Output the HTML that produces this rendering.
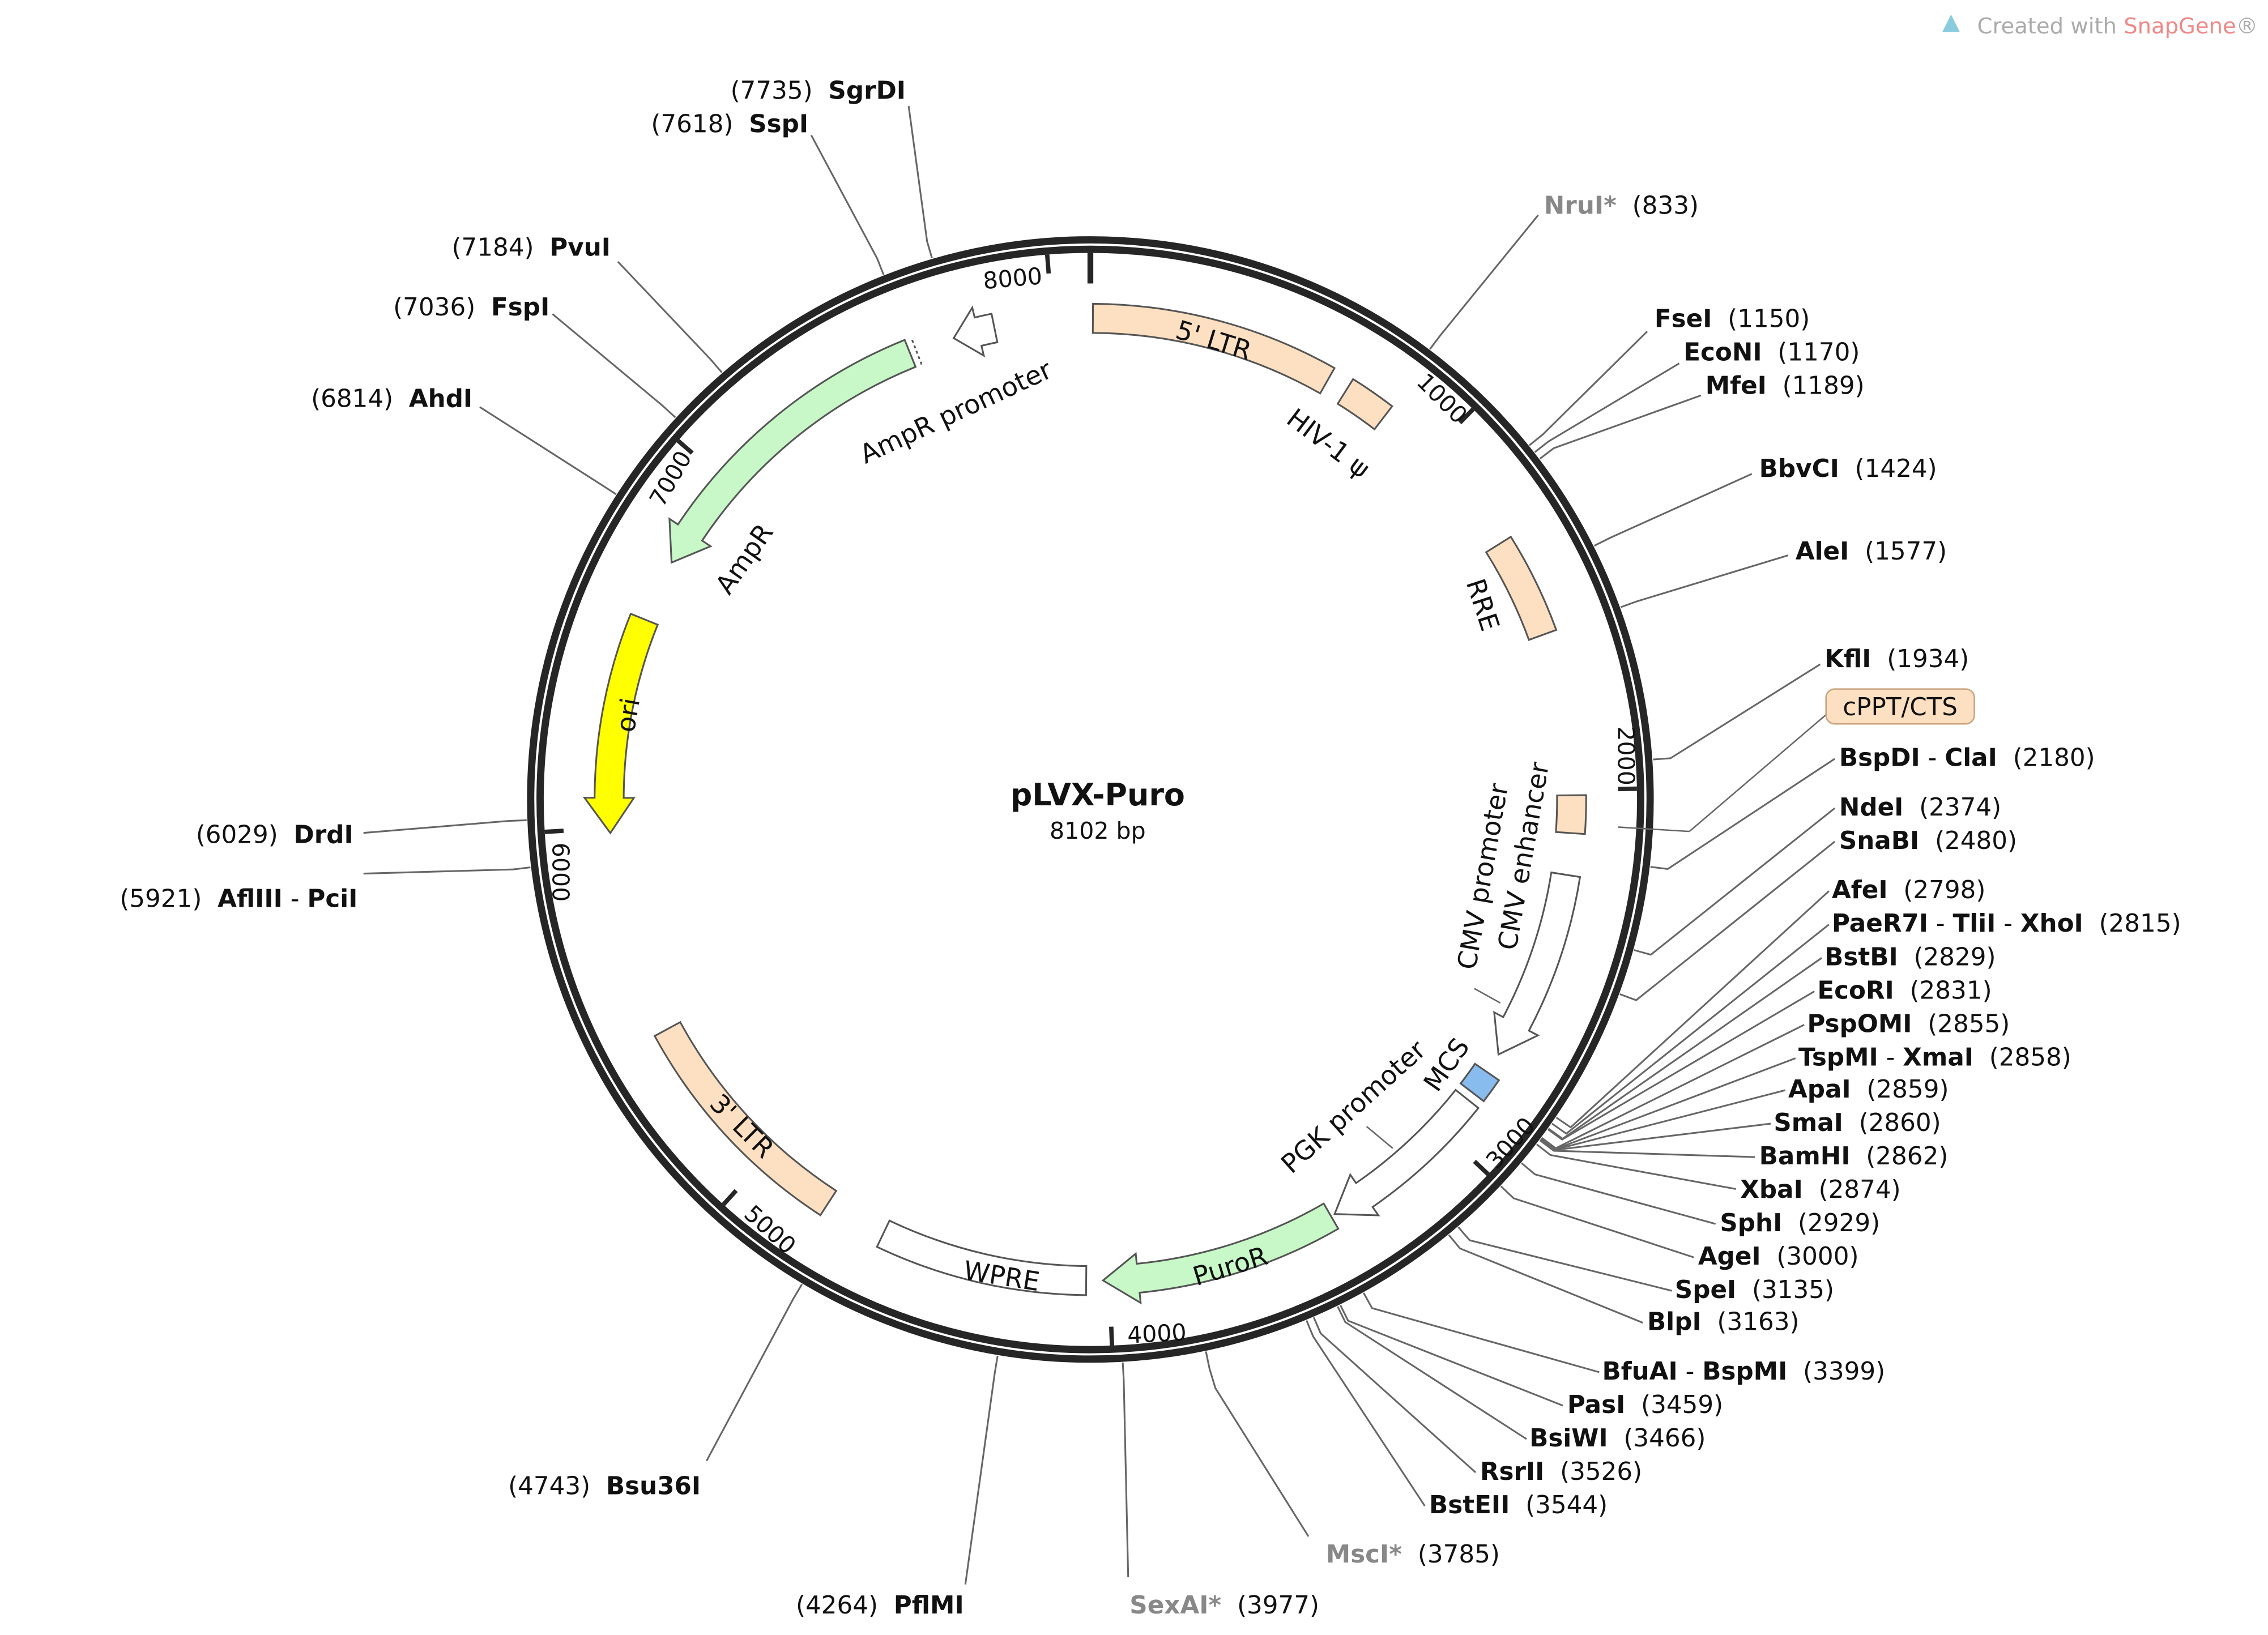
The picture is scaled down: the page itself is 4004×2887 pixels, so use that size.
<!DOCTYPE html>
<html><head><meta charset="utf-8"><style>
html,body{margin:0;padding:0;background:#fff}
svg{display:block}
text{font-family:"DejaVu Sans","Liberation Sans",sans-serif;font-size:17px;fill:#111;white-space:pre}
.b{font-weight:bold}
.g{fill:#888;font-weight:bold}
.f{font-size:18px}
.t{font-size:16px}
</style></head><body>
<svg id="s" width="4004" height="2887" viewBox="0 0 1560 1124.8" xmlns="http://www.w3.org/2000/svg" xml:space="preserve">
<g id="lines" stroke="#666" stroke-width="1.2" fill="none"></g>
<circle cx="750" cy="550" r="385" fill="none" stroke="#262626" stroke-width="5"/>
<circle cx="750" cy="550" r="378.5" fill="none" stroke="#262626" stroke-width="5"/>
<g id="ticks" stroke="#262626" stroke-width="3"></g>
<g id="feats" stroke="#555" stroke-width="1.2"></g>
<line x1="1014" y1="680" x2="1032" y2="690" stroke="#666"/>
<line x1="940" y1="775" x2="958" y2="790" stroke="#666"/>
<line x1="1113" y1="569" x2="1162" y2="572" stroke="#666"/>
<line x1="1162" y1="572" x2="1258" y2="490" stroke="#666"/>

<text x="755" y="554" text-anchor="middle" class="b" style="font-size:21px">pLVX-Puro</text>
<text x="755" y="577" text-anchor="middle" style="font-size:16px">8102 bp</text>
<text x="1360" y="23" style="font-size:15px;fill:#aaa">Created with <tspan style="fill:#e88">SnapGene</tspan>®</text>
<path d="M1336 22 l6 -12 l6 12 z" fill="#8cd"/>

<text class="t" text-anchor="middle" transform="translate(697,197) rotate(-5)">8000</text>
<text class="t" text-anchor="middle" transform="translate(988,278) rotate(45)">1000</text>
<text class="t" text-anchor="middle" transform="translate(1113,520) rotate(90)">2000</text>
<text class="t" text-anchor="middle" transform="translate(1043,790) rotate(-48)">3000</text>
<text class="t" text-anchor="middle" transform="translate(796,923) rotate(-3)">4000</text>
<text class="t" text-anchor="middle" transform="translate(526,850) rotate(42)">5000</text>
<text class="t" text-anchor="middle" transform="translate(380,600) rotate(90)">6000</text>
<text class="t" text-anchor="middle" transform="translate(466,332) rotate(-60)">7000</text>

<text class="f" text-anchor="middle" transform="translate(833,240) rotate(17)">5' LTR</text>
<text class="f" text-anchor="middle" transform="translate(910,310) rotate(37)">HIV-1 ψ</text>
<text class="f" text-anchor="middle" transform="translate(1014,418) rotate(72)">RRE</text>
<text class="f" text-anchor="middle" transform="translate(1054,590) rotate(-80)">CMV enhancer</text>
<text class="f" text-anchor="middle" transform="translate(1026,604) rotate(-80)">CMV promoter</text>
<text class="f" text-anchor="middle" transform="translate(1000,736) rotate(-55)">MCS</text>
<text class="f" text-anchor="middle" transform="translate(935,766) rotate(-42)">PGK promoter</text>
<text class="f" text-anchor="middle" transform="translate(848,877) rotate(-17)">PuroR</text>
<text class="f" text-anchor="middle" transform="translate(688,884) rotate(9)">WPRE</text>
<text class="f" text-anchor="middle" transform="translate(506,779) rotate(45)">3' LTR</text>
<text class="f" text-anchor="middle" transform="translate(438,493) rotate(-80)">ori</text>
<text class="f" text-anchor="middle" transform="translate(517,388) rotate(-55)">AmpR</text>
<text class="f" text-anchor="middle" transform="translate(660,289) rotate(-25)">AmpR promoter</text>

<rect x="1256" y="474" width="102" height="24" rx="6" fill="#fde0c2" stroke="#c9a37f"/>
<text x="1307" y="492" text-anchor="middle">cPPT/CTS</text>

<text x="623" y="68" text-anchor="end">(7735)  <tspan class="b">SgrDI</tspan></text>
<text x="556" y="91" text-anchor="end">(7618)  <tspan class="b">SspI</tspan></text>
<text x="420" y="176" text-anchor="end">(7184)  <tspan class="b">PvuI</tspan></text>
<text x="378" y="217" text-anchor="end">(7036)  <tspan class="b">FspI</tspan></text>
<text x="325" y="280" text-anchor="end">(6814)  <tspan class="b">AhdI</tspan></text>
<text x="243" y="580" text-anchor="end">(6029)  <tspan class="b">DrdI</tspan></text>
<text x="246" y="624" text-anchor="end">(5921)  <tspan class="b">AflIII</tspan> - <tspan class="b">PciI</tspan></text>
<text x="482" y="1028" text-anchor="end">(4743)  <tspan class="b">Bsu36I</tspan></text>
<text x="663" y="1110" text-anchor="end">(4264)  <tspan class="b">PflMI</tspan></text>
<text x="777" y="1110"><tspan class="g">SexAI*</tspan>  (3977)</text>
<text x="912" y="1075"><tspan class="g">MscI*</tspan>  (3785)</text>
<text x="1062" y="147"><tspan class="g">NruI*</tspan>  (833)</text>
<text x="1138" y="225"><tspan class="b">FseI</tspan>  (1150)</text>
<text x="1158" y="248"><tspan class="b">EcoNI</tspan>  (1170)</text>
<text x="1173" y="271"><tspan class="b">MfeI</tspan>  (1189)</text>
<text x="1210" y="328"><tspan class="b">BbvCI</tspan>  (1424)</text>
<text x="1235" y="385"><tspan class="b">AleI</tspan>  (1577)</text>
<text x="1255" y="459"><tspan class="b">KflI</tspan>  (1934)</text>
<text x="1265" y="527"><tspan class="b">BspDI</tspan> - <tspan class="b">ClaI</tspan>  (2180)</text>
<text x="1265" y="561"><tspan class="b">NdeI</tspan>  (2374)</text>
<text x="1265" y="584"><tspan class="b">SnaBI</tspan>  (2480)</text>
<text x="1260" y="618"><tspan class="b">AfeI</tspan>  (2798)</text>
<text x="1260" y="641"><tspan class="b">PaeR7I</tspan> - <tspan class="b">TliI</tspan> - <tspan class="b">XhoI</tspan>  (2815)</text>
<text x="1255" y="664"><tspan class="b">BstBI</tspan>  (2829)</text>
<text x="1250" y="687"><tspan class="b">EcoRI</tspan>  (2831)</text>
<text x="1243" y="710"><tspan class="b">PspOMI</tspan>  (2855)</text>
<text x="1237" y="733"><tspan class="b">TspMI</tspan> - <tspan class="b">XmaI</tspan>  (2858)</text>
<text x="1230" y="755"><tspan class="b">ApaI</tspan>  (2859)</text>
<text x="1220" y="778"><tspan class="b">SmaI</tspan>  (2860)</text>
<text x="1210" y="801"><tspan class="b">BamHI</tspan>  (2862)</text>
<text x="1197" y="824"><tspan class="b">XbaI</tspan>  (2874)</text>
<text x="1183" y="847"><tspan class="b">SphI</tspan>  (2929)</text>
<text x="1168" y="870"><tspan class="b">AgeI</tspan>  (3000)</text>
<text x="1152" y="893"><tspan class="b">SpeI</tspan>  (3135)</text>
<text x="1133" y="915"><tspan class="b">BlpI</tspan>  (3163)</text>
<text x="1102" y="949"><tspan class="b">BfuAI</tspan> - <tspan class="b">BspMI</tspan>  (3399)</text>
<text x="1078" y="972"><tspan class="b">PasI</tspan>  (3459)</text>
<text x="1052" y="995"><tspan class="b">BsiWI</tspan>  (3466)</text>
<text x="1018" y="1018"><tspan class="b">RsrII</tspan>  (3526)</text>
<text x="983" y="1041"><tspan class="b">BstEII</tspan>  (3544)</text>
</svg>
<script>
var cx=750,cy=550,N="http://www.w3.org/2000/svg";
function P(r,t){t*=Math.PI/180;return [cx+r*Math.sin(t),cy-r*Math.cos(t)];}
function el(p,tag,a){var e=document.createElementNS(N,tag);for(var k in a)e.setAttribute(k,a[k]);document.getElementById(p).appendChild(e);}
[0,1000,2000,3000,4000,5000,6000,7000,8000].forEach(function(v){var t=v/8102*360;var a=P(376,t),b=P(v==0?355:363,t);el("ticks","line",{x1:a[0],y1:a[1],x2:b[0],y2:b[1],"stroke-width":v==0?4:3});});
var E=[[7735,625,73],[7618,558,93],[7184,425,180],[7036,380,216],[6814,330,280],[6029,250,573],[5921,250,601],[4743,486,1005],[4264,664,1090],[3977,776,1085],[3785,836,955,900,1057],
[833,1058,148],[1150,1133,228],[1170,1155,250],[1189,1170,272],[1424,1205,326],[1577,1230,382],[1934,1252,457],[2180,1262,522],[2374,1262,556],[2480,1262,579],
[2798,1258,613],[2815,1258,636],[2829,1253,659],[2831,1248,682],[2855,1241,705],[2858,1235,728],[2859,1228,750],[2860,1218,773],[2862,1207,796],[2874,1194,818],[2929,1180,842],[3000,1165,865],[3135,1150,888],[3163,1130,910],[3399,1100,944],[3459,1075,967],[3466,1050,990],[3526,1015,1013],[3544,980,1036]];
E.forEach(function(e){var t=e[0]/8102*360;var a=P(388,t),b=P(400,t);var pts=a.join(",")+" "+b.join(",");
 if(e.length==5)pts+=" "+e[1]+","+e[2]+" "+e[3]+","+e[4];else pts+=" "+e[1]+","+e[2];
 el("lines","polyline",{points:pts});});
function feat(a,b,fill,arrow){var r1=321,r2=341,rm=331,s=b>a?1:-1,h=arrow?Math.min(4.2,Math.abs(b-a)*0.6):0,bb=b-s*h;
 var sw=s>0?1:0,sw2=s>0?0:1;var A1=P(r2,a),B1=P(r2,bb),B2=P(r1,bb),A2=P(r1,a);var d="M"+A1+" A"+r2+" "+r2+" 0 0 "+sw+" "+B1;
 if(arrow){var o=P(r2+7,bb),tp=P(rm,b),i=P(r1-7,bb);d+=" L"+o+" L"+tp+" L"+i+" L"+B2;}else d+=" L"+B2;
 d+=" A"+r1+" "+r1+" 0 0 "+sw2+" "+A2+" Z";el("feats","path",{d:d,fill:fill});}
var pe="#fde0c2",gr="#c8f8c8";
feat(0.3,29.5,pe,0);feat(32,37.5,pe,0);feat(58,70,pe,0);feat(89.5,94,pe,0);
feat(99,122,"#fff",1);feat(124.5,127.5,"#88bbee",0);feat(128.5,149.5,"#fff",1);
feat(150,178.5,gr,1);feat(180.5,205.5,"#fff",0);feat(213,241.5,pe,0);
feat(292,266,"#ffff00",1);feat(338,299.5,gr,1);feat(348.5,343.5,"#fff",1);
var d1=P(321,338.8),d2=P(341,338.8);el("feats","line",{x1:d1[0],y1:d1[1],x2:d2[0],y2:d2[1],"stroke-dasharray":"2,2"});
</script>
</body></html>
